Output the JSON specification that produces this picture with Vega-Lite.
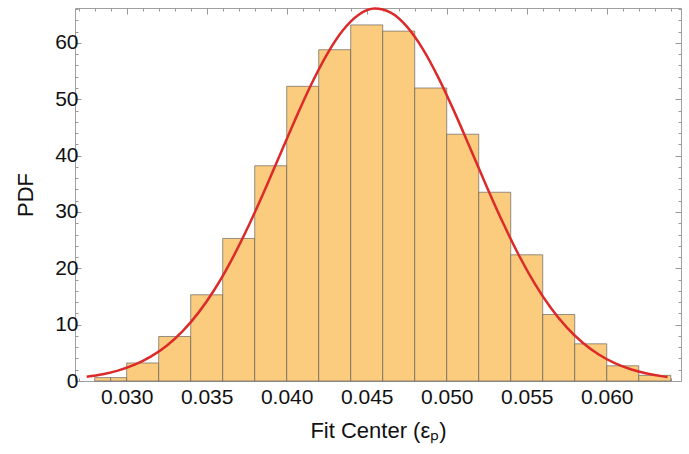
{
  "$schema": "https://vega.github.io/schema/vega-lite/v6.json",
  "width": 606,
  "height": 373,
  "autosize": "none",
  "padding": {"left": 75, "top": 8, "right": 8, "bottom": 73},
  "config": {
    "font": "Liberation Sans",
    "view": {"stroke": "#a0a0a0", "strokeWidth": 1},
    "axis": {"grid": false, "domain": false, "tickColor": "#999999", "tickWidth": 1, "labelColor": "#111111", "titleColor": "#111111", "titleFontWeight": "normal"}
  },
  "layer": [
    {
      "data": {"values": [
        {"x0": 0.028, "x1": 0.029, "pdf": 0.6},
        {"x0": 0.029, "x1": 0.030, "pdf": 0.6},
        {"x0": 0.030, "x1": 0.032, "pdf": 3.2},
        {"x0": 0.032, "x1": 0.034, "pdf": 7.9},
        {"x0": 0.034, "x1": 0.036, "pdf": 15.3},
        {"x0": 0.036, "x1": 0.038, "pdf": 25.3},
        {"x0": 0.038, "x1": 0.040, "pdf": 38.2},
        {"x0": 0.040, "x1": 0.042, "pdf": 52.3},
        {"x0": 0.042, "x1": 0.044, "pdf": 58.8},
        {"x0": 0.044, "x1": 0.046, "pdf": 63.2},
        {"x0": 0.046, "x1": 0.048, "pdf": 62.1},
        {"x0": 0.048, "x1": 0.050, "pdf": 52.0},
        {"x0": 0.050, "x1": 0.052, "pdf": 43.8},
        {"x0": 0.052, "x1": 0.054, "pdf": 33.5},
        {"x0": 0.054, "x1": 0.056, "pdf": 22.4},
        {"x0": 0.056, "x1": 0.058, "pdf": 11.8},
        {"x0": 0.058, "x1": 0.060, "pdf": 6.6},
        {"x0": 0.060, "x1": 0.062, "pdf": 2.7},
        {"x0": 0.062, "x1": 0.064, "pdf": 1.0}
      ]},
      "mark": {"type": "rect", "fill": "#fccc7e", "stroke": "#5a5a5a", "strokeWidth": 0.8, "strokeOpacity": 0.8},
      "encoding": {
        "x": {"field": "x0", "type": "quantitative",
          "scale": {"domain": [0.02677, 0.06464], "nice": false, "zero": false},
          "axis": {"orient": "bottom", "title": "Fit Center (εₚ)",
            "values": [0.027,0.028,0.029,0.030,0.031,0.032,0.033,0.034,0.035,0.036,0.037,0.038,0.039,0.040,0.041,0.042,0.043,0.044,0.045,0.046,0.047,0.048,0.049,0.050,0.051,0.052,0.053,0.054,0.055,0.056,0.057,0.058,0.059,0.060,0.061,0.062,0.063,0.064],
            "labelExpr": "abs(datum.value*200 - round(datum.value*200)) < 0.01 ? format(datum.value, '.3f') : ''",
            "tickSize": {"condition": {"test": "abs(datum.value*200 - round(datum.value*200)) < 0.01", "value": -6}, "value": -3},
            "labelFontSize": 21, "labelPadding": 11, "labelFlush": false, "labelOverlap": false,
            "titleFontSize": 22, "titlePadding": 10}},
        "x2": {"field": "x1"},
        "y": {"field": "pdf", "type": "quantitative",
          "scale": {"domain": [0, 66.2], "nice": false},
          "axis": {"orient": "left", "title": "PDF",
            "values": [0,2,4,6,8,10,12,14,16,18,20,22,24,26,28,30,32,34,36,38,40,42,44,46,48,50,52,54,56,58,60,62,64,66],
            "labelExpr": "datum.value % 10 == 0 ? datum.value : ''",
            "tickSize": {"condition": {"test": "datum.value % 10 == 0", "value": -6}, "value": -3},
            "labelFontSize": 21, "labelPadding": 3, "labelOverlap": false,
            "titleFontSize": 22, "titlePadding": 17}},
        "y2": {"datum": 0}
      }
    },
    {
      "data": {"values": [
        {"x": 0.0275, "y": 0.74}, {"x": 0.0285, "y": 1.20}, {"x": 0.0295, "y": 1.89},
        {"x": 0.0305, "y": 2.89}, {"x": 0.0315, "y": 4.32}, {"x": 0.0325, "y": 6.27},
        {"x": 0.0335, "y": 8.86}, {"x": 0.0345, "y": 12.18}, {"x": 0.0355, "y": 16.29},
        {"x": 0.0365, "y": 21.20}, {"x": 0.0375, "y": 26.84}, {"x": 0.0385, "y": 33.06},
        {"x": 0.0395, "y": 39.63}, {"x": 0.0405, "y": 46.21}, {"x": 0.0415, "y": 52.44},
        {"x": 0.0425, "y": 57.89}, {"x": 0.0435, "y": 62.19}, {"x": 0.0445, "y": 65.00},
        {"x": 0.0455, "y": 66.09}, {"x": 0.0465, "y": 65.39}, {"x": 0.0475, "y": 62.94},
        {"x": 0.0485, "y": 58.95}, {"x": 0.0495, "y": 53.72}, {"x": 0.0505, "y": 47.63},
        {"x": 0.0515, "y": 41.09}, {"x": 0.0525, "y": 34.48}, {"x": 0.0535, "y": 28.16},
        {"x": 0.0545, "y": 22.37}, {"x": 0.0555, "y": 17.30}, {"x": 0.0565, "y": 13.01},
        {"x": 0.0575, "y": 9.52}, {"x": 0.0585, "y": 6.78}, {"x": 0.0595, "y": 4.70},
        {"x": 0.0605, "y": 3.17}, {"x": 0.0615, "y": 2.08}, {"x": 0.0625, "y": 1.33},
        {"x": 0.0635, "y": 0.82}, {"x": 0.0638, "y": 0.71}
      ]},
      "mark": {"type": "line", "color": "#dc2a2a", "strokeWidth": 2.5, "interpolate": "monotone"},
      "encoding": {
        "x": {"field": "x", "type": "quantitative",
          "scale": {"domain": [0.02677, 0.06464], "nice": false, "zero": false},
          "axis": {"orient": "top", "title": null,
            "values": [0.027,0.028,0.029,0.030,0.031,0.032,0.033,0.034,0.035,0.036,0.037,0.038,0.039,0.040,0.041,0.042,0.043,0.044,0.045,0.046,0.047,0.048,0.049,0.050,0.051,0.052,0.053,0.054,0.055,0.056,0.057,0.058,0.059,0.060,0.061,0.062,0.063,0.064],
            "labels": false,
            "tickSize": {"condition": {"test": "abs(datum.value*200 - round(datum.value*200)) < 0.01", "value": -6}, "value": -3}}},
        "y": {"field": "y", "type": "quantitative",
          "scale": {"domain": [0, 66.2], "nice": false},
          "axis": {"orient": "right", "title": null,
            "values": [0,2,4,6,8,10,12,14,16,18,20,22,24,26,28,30,32,34,36,38,40,42,44,46,48,50,52,54,56,58,60,62,64,66],
            "labels": false,
            "tickSize": {"condition": {"test": "datum.value % 10 == 0", "value": -6}, "value": -3}}}
      }
    }
  ],
  "resolve": {"axis": {"x": "independent", "y": "independent"}}
}
